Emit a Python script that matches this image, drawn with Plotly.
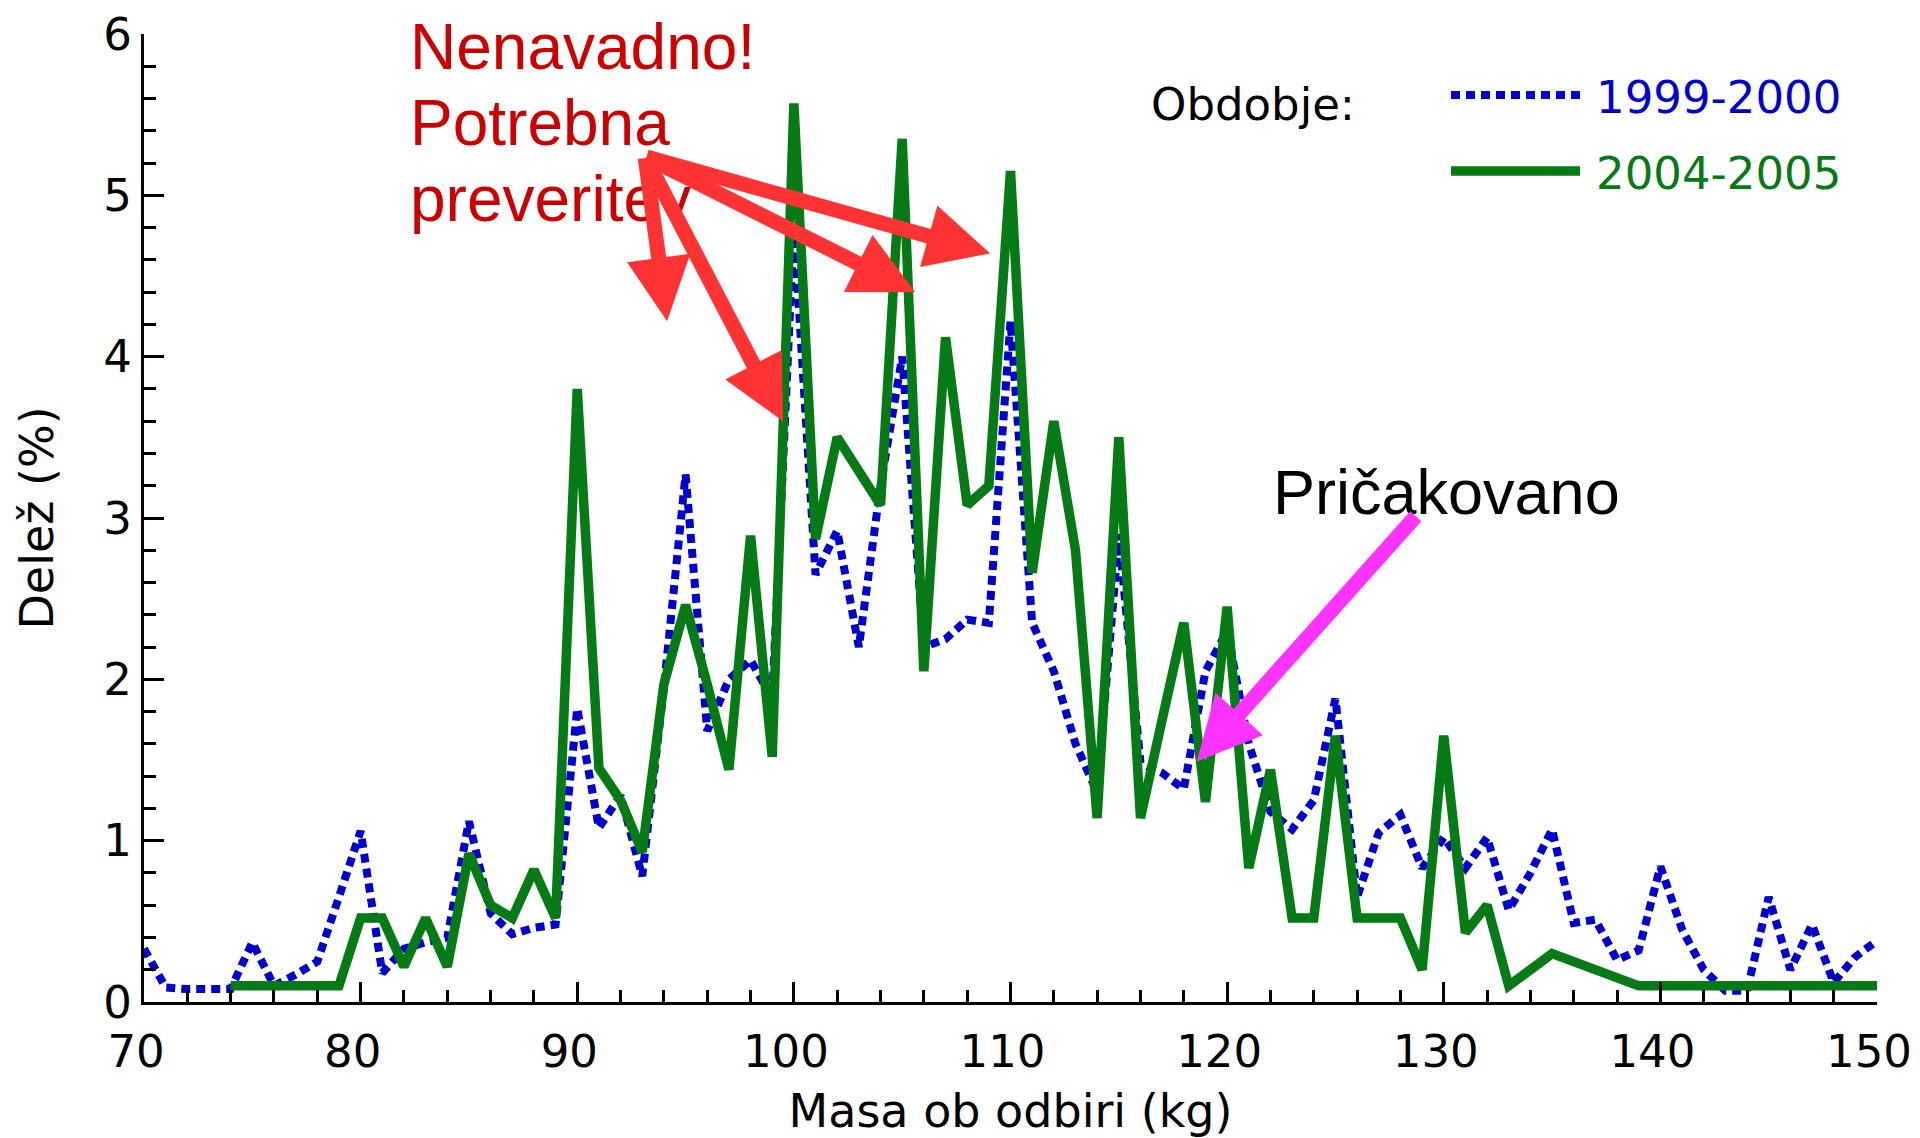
import plotly.graph_objects as go

# ---------------- data ----------------
mass_1999 = list(range(70, 151))
share_1999 = [0.33, 0.09, 0.08, 0.08, 0.08, 0.37, 0.10, 0.17, 0.25, 0.65,
              1.06, 0.18, 0.33, 0.37, 0.40, 1.12, 0.55, 0.42, 0.46, 0.48,
              1.82, 1.08, 1.28, 0.78, 1.95, 3.27, 1.68, 2.00, 2.12, 1.88,
              4.80, 2.65, 2.92, 2.20, 3.20, 4.00, 2.20, 2.25, 2.37, 2.35,
              4.22, 2.35, 2.05, 1.60, 1.30, 2.90, 1.48, 1.42, 1.32, 2.05,
              2.30, 1.60, 1.18, 1.07, 1.25, 1.88, 0.65, 1.05, 1.16, 0.83,
              1.02, 0.83, 1.02, 0.57, 0.80, 1.07, 0.49, 0.51, 0.26, 0.32,
              0.84, 0.45, 0.20, 0.07, 0.07, 0.65, 0.20, 0.48, 0.12, 0.28,
              0.38]

mass_2004 = list(range(74, 151))
share_2004 = [0.10, 0.10, 0.10, 0.10, 0.10, 0.10,
              0.52, 0.52, 0.22, 0.52, 0.22, 0.92, 0.60, 0.52, 0.82, 0.52,
              3.80, 1.45, 1.25, 0.93, 1.97, 2.46, 1.97, 1.44, 2.89, 1.52,
              5.57, 2.87, 3.50, 3.30, 3.08, 5.35, 2.05, 4.12, 3.08, 3.20,
              5.15, 2.66, 3.60, 2.80, 1.14, 3.50, 1.14, 1.75, 2.35, 1.24,
              2.45, 0.83, 1.44, 0.52, 0.52, 1.65, 0.52, 0.52, 0.52, 0.20,
              1.65, 0.43, 0.60, 0.10, 0.20, 0.30, 0.25, 0.20, 0.15, 0.10,
              0.10, 0.10, 0.10, 0.10, 0.10, 0.10, 0.10, 0.10, 0.10, 0.10,
              0.10]

series_names = ["1999-2000", "2004-2005"]
legend_title = "Obdobje:"
x_title = "Masa ob odbiri (kg)"
y_title = "Delež (%)"
note_unusual_lines = ["Nenavadno!", "Potrebna", "preveritev"]
note_expected = "Pričakovano"

BLUE = "#0000cc"
GREEN = "#067a14"
RED_TXT = "#cc0000"
RED_ARROW = "#ff3333"
MAGENTA = "#ff33ff"

# the page body has an 8px margin, so the figure is drawn 8px smaller
OFF = 8
W, H = 1920 - OFF, 1138 - OFF
# plot area in screen pixels: x 144..1877, y 34..1002
PL, PR, PT, PB = 144, 1877, 34, 1002
L, T = PL - OFF, PT - OFF
R = (OFF + W) - PR
B = (OFF + H) - PB
PW, PH = PR - PL, PB - PT


def px2paper(px, py):
    """screen pixel -> paper coordinates"""
    return (px - PL) / PW, (PB - py) / PH


fig = go.Figure()
fig.add_trace(go.Scatter(x=mass_1999, y=share_1999, mode="lines",
                         line=dict(color=BLUE, width=8, dash="9px,6px"),
                         name=series_names[0], showlegend=False))
fig.add_trace(go.Scatter(x=mass_2004, y=share_2004, mode="lines",
                         line=dict(color=GREEN, width=9.5),
                         name=series_names[1], showlegend=False))

tickfont = dict(family="DejaVu Sans", size=45, color="black")

fig.update_xaxes(range=[70, 150], tickmode="linear", tick0=70, dtick=10,
                 ticks="inside", ticklen=20, tickwidth=2.5, tickcolor="black",
                 showline=True, linecolor="black", linewidth=3,
                 showgrid=False, zeroline=False, tickfont=tickfont,
                 ticklabelstandoff=8, ticklabelshift=-8,
                 automargin=False, ticklabeloverflow="allow",
                 minor=dict(ticks="inside", dtick=2, ticklen=12, tickwidth=2.5,
                            tickcolor="black", showgrid=False),
                 title=dict(text=x_title, font=dict(family="DejaVu Sans", size=46, color="black"),
                            standoff=20))
fig.update_yaxes(range=[0, 6], tickmode="linear", tick0=0, dtick=1,
                 ticks="inside", ticklen=20, tickwidth=2.5, tickcolor="black",
                 showline=True, linecolor="black", linewidth=3,
                 showgrid=False, zeroline=False, tickfont=tickfont,
                 automargin=False, ticklabeloverflow="allow",
                 minor=dict(ticks="inside", dtick=0.2, ticklen=12, tickwidth=2.5,
                            tickcolor="black", showgrid=False),
                 title=dict(text=y_title, font=dict(family="DejaVu Sans", size=46, color="black"),
                            standoff=36))

annotations = []
# manual legend
lx, ly = px2paper(1253, 104)
annotations.append(dict(xref="paper", yref="paper", x=lx, y=ly, text=legend_title,
                        showarrow=False, xanchor="center", yanchor="middle",
                        font=dict(family="DejaVu Sans", size=45, color="black")))
for name, col, py in [(series_names[0], BLUE, 97), (series_names[1], GREEN, 174)]:
    tx, ty = px2paper(1594, py)
    annotations.append(dict(xref="paper", yref="paper", x=tx, y=ty, text=name,
                            showarrow=False, xanchor="left", yanchor="middle",
                            font=dict(family="DejaVu Sans", size=45, color=col)))

shapes = []
x0, y0 = px2paper(1451, 95)
x1, _ = px2paper(1580, 95)
shapes.append(dict(type="line", xref="paper", yref="paper", x0=x0, x1=x1, y0=y0, y1=y0,
                   line=dict(color=BLUE, width=8, dash="9px,6px")))
x0, y0 = px2paper(1451, 171)
shapes.append(dict(type="line", xref="paper", yref="paper", x0=x0, x1=x1, y0=y0, y1=y0,
                   line=dict(color=GREEN, width=9.5)))

# red note text, one annotation per line
for line_text, py in zip(note_unusual_lines, [47, 123, 199]):
    nx, ny = px2paper(408, py)
    annotations.append(dict(xref="paper", yref="paper", x=nx, y=ny, text=line_text,
                            showarrow=False, xanchor="left", yanchor="middle", align="left",
                            font=dict(family="Liberation Sans", size=64, color=RED_TXT)))
# red arrows (tail at the note, tips at suspicious peaks)
tail = (93.13, 5.24)
for tip in [(94.15, 4.22), (99.5, 3.6), (105.6, 4.40), (109.06, 4.64)]:
    annotations.append(dict(xref="x", yref="y", axref="x", ayref="y",
                            x=tip[0], y=tip[1], ax=tail[0], ay=tail[1], text="",
                            showarrow=True, arrowhead=2, arrowsize=0.85, arrowwidth=15,
                            arrowcolor=RED_ARROW, standoff=0, startstandoff=0))

ex, ey = px2paper(1446, 492)
annotations.append(dict(xref="paper", yref="paper", x=ex, y=ey, text=note_expected,
                        showarrow=False, xanchor="center", yanchor="middle",
                        font=dict(family="Liberation Sans", size=63, color="black")))
annotations.append(dict(xref="x", yref="y", axref="x", ayref="y",
                        x=118.6, y=1.49, ax=128.77, ay=3.02, text="",
                        showarrow=True, arrowhead=2, arrowsize=0.85, arrowwidth=15,
                        arrowcolor=MAGENTA, standoff=0, startstandoff=0))

fig.update_layout(width=W, height=H, margin=dict(l=L, r=R, t=T, b=B, autoexpand=False),
                  paper_bgcolor="white", plot_bgcolor="white",
                  annotations=annotations, shapes=shapes, showlegend=False)

fig.write_html("out.html", post_script="document.body.style.overflow='hidden';")
